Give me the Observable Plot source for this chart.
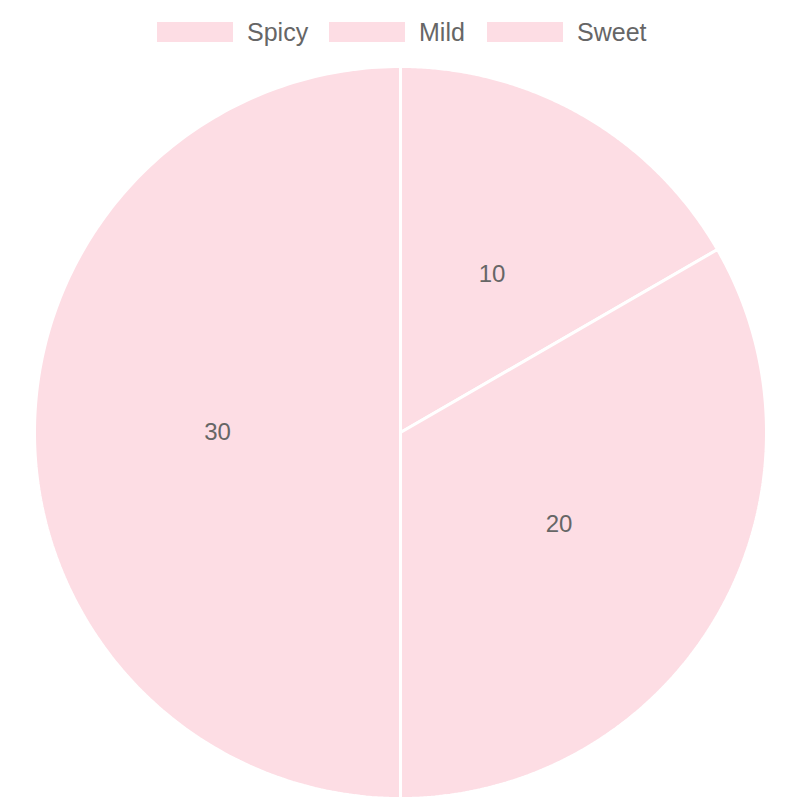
<!DOCTYPE html>
<html>
<head>
<meta charset="utf-8">
<script src="https://cdn.jsdelivr.net/npm/d3@7"></script>
<script src="https://cdn.jsdelivr.net/npm/@observablehq/plot@0.6"></script>
<style>
  html, body { margin: 0; padding: 0; background: #fff; }
  body { width: 800px; font-family: "Liberation Sans", Arial, sans-serif; }
  #legend { position: relative; height: 64px; }
  .item { position: absolute; top: 22px; height: 20px; display: flex; align-items: center; }
  .sw { width: 76px; height: 20px; background: #fddde4; margin-right: 14px; }
  .lab { font-size: 25px; color: #666; line-height: 20px; }
</style>
</head>
<body>
<div id="legend"></div>
<div id="chart"></div>
<script>
const categories = ["Spicy", "Mild", "Sweet"];
const values = [10, 20, 30];
const sliceColor = "#fddde4";

// legend
const legendX = [157, 329, 487];
const legend = document.getElementById("legend");
categories.forEach((c, i) => {
  const d = document.createElement("div");
  d.className = "item";
  d.style.left = legendX[i] + "px";
  d.innerHTML = `<div class="sw"></div><span class="lab">${c}</span>`;
  legend.appendChild(d);
});

// pie geometry
const R = 366;
const pie = d3.pie().sort(null).value(d => d.value)(categories.map((c, i) => ({category: c, value: values[i]})));
const pts = [];
const labels = [];
pie.forEach(s => {
  const c = s.data.category;
  pts.push({category: c, x: 0, y: 0});
  const n = 200;
  for (let k = 0; k <= n; k++) {
    const a = s.startAngle + (s.endAngle - s.startAngle) * k / n;
    pts.push({category: c, x: R * Math.sin(a), y: -R * Math.cos(a)});
  }
  pts.push({category: c, x: 0, y: 0});
  const m = (s.startAngle + s.endAngle) / 2;
  labels.push({category: c, value: s.data.value, x: R / 2 * Math.sin(m), y: -R / 2 * Math.cos(m)});
});

const H = 736;
const cy = 368;
const chart = Plot.plot({
  width: 800,
  height: H,
  margin: 0,
  x: {domain: [-400, 400], range: [0, 800], axis: null},
  y: {domain: [-cy, H - cy], range: [0, H], axis: null},
  marks: [
    Plot.line(pts, {x: "x", y: "y", z: "category", fill: sliceColor, stroke: "#fff", strokeWidth: 3, strokeLinejoin: "miter", curve: "linear"}),
    Plot.text(labels, {x: "x", y: "y", text: d => String(d.value), fill: "#666", fontSize: 24, fontFamily: "Liberation Sans, Arial, sans-serif"})
  ],
  style: {background: "#fff", overflow: "visible"}
});
document.getElementById("chart").appendChild(chart);
</script>
</body>
</html>
